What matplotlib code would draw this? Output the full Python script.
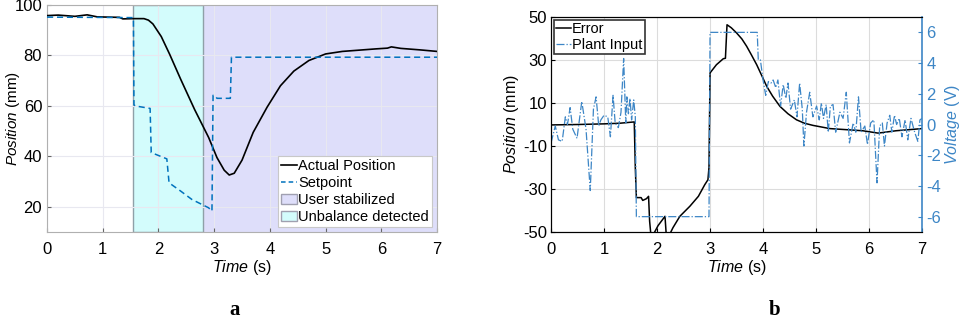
import numpy as np
import matplotlib.pyplot as plt
from matplotlib.patches import Patch
from matplotlib.lines import Line2D

plt.rcParams["font.family"] = ["Liberation Sans", "DejaVu Sans"]
plt.rcParams["mathtext.fontset"] = "custom"
plt.rcParams["mathtext.it"] = "Liberation Sans:italic"
plt.rcParams["mathtext.rm"] = "Liberation Sans"
plt.rcParams["axes.unicode_minus"] = False

# ---- panel a: position tracking ----
pos_t = [0.0, 0.2, 0.5, 0.72, 0.9, 1.1, 1.3, 1.36, 1.56, 1.74, 1.82, 1.9, 2.05,
         2.2, 2.4, 2.65, 2.9, 3.05, 3.18, 3.27, 3.36, 3.5, 3.7, 3.95, 4.19, 4.43,
         4.7, 5.0, 5.3, 5.6, 5.9, 6.11, 6.18, 6.35, 6.7, 7.0]
pos_v = [95.8, 96.0, 95.5, 96.1, 95.3, 95.2, 95.1, 94.5, 94.6, 94.6, 94.0, 92.5, 87.5,
         80.5, 70.5, 58.5, 47.5, 39.5, 34.5, 32.6, 33.3, 38.5, 49.5, 59.5, 68.0, 73.8,
         78.0, 80.6, 81.6, 82.1, 82.6, 82.9, 83.4, 82.8, 82.2, 81.6]

set_t = [0.0, 1.55, 1.56, 1.58, 1.85, 1.87, 2.15, 2.19, 2.4, 2.6, 2.9, 2.96,
         2.98, 3.02, 3.05, 3.29, 3.31, 7.0]
set_v = [95.2, 95.0, 60.5, 60.0, 59.0, 41.5, 39.0, 29.5, 26.2, 22.9, 19.6, 18.3,
         64.2, 64.0, 63.0, 63.0, 79.3, 79.3]

unbalance = (1.54, 2.80)
stabilized = (2.80, 7.0)

# ---- panel b: error and plant input ----
err_t = [0.0, 0.5, 1.0, 1.3, 1.57, 1.59, 1.61, 1.70, 1.73, 1.80, 1.84, 1.86,
         1.89, 2.02, 2.15, 2.17, 2.20, 2.30, 2.43, 2.62, 2.78, 2.90, 2.96, 2.98,
         3.00, 3.12, 3.25, 3.29, 3.32, 3.40, 3.50, 3.60, 3.69, 3.78, 3.88, 3.98,
         4.07, 4.18, 4.32, 4.47, 4.63, 4.78, 4.94, 5.26, 5.57, 5.88, 6.17, 6.51, 7.0]
err_v = [-0.2, 0.0, 0.3, 0.6, 1.2, -20.0, -34.0, -34.0, -35.3, -34.5, -33.4, -45.0,
         -53.0, -47.0, -42.7, -50.0, -53.0, -48.0, -42.7, -38.0, -33.4, -28.0, -25.7, -20.0,
         24.0, 27.8, 30.6, 30.8, 46.4, 45.0, 42.6, 39.8, 36.4, 32.4, 27.8, 22.5,
         17.7, 13.2, 8.4, 5.0, 2.2, 0.6, -0.4, -1.9, -2.4, -2.9, -4.0, -2.9, -1.9]

inp_t = [0.0, 0.08, 0.14, 0.21, 0.27, 0.31, 0.36, 0.41, 0.49, 0.58, 0.66, 0.74,
         0.80, 0.85, 0.90, 0.94, 1.00, 1.07, 1.12, 1.17, 1.21, 1.27, 1.32, 1.37,
         1.41, 1.43, 1.46, 1.49, 1.52, 1.56, 1.59, 1.61, 2.98, 3.00, 3.89, 3.91,
         3.95, 4.00, 4.05, 4.10, 4.15, 4.19, 4.24, 4.28, 4.33, 4.38, 4.43, 4.47,
         4.52, 4.59, 4.64, 4.69, 4.74, 4.77, 4.82, 4.88, 4.94, 5.01, 5.06, 5.10,
         5.14, 5.19, 5.23, 5.27, 5.32, 5.37, 5.45, 5.51, 5.57, 5.63, 5.70, 5.75,
         5.80, 5.85, 5.92, 5.97, 6.03, 6.09, 6.15, 6.20, 6.25, 6.29, 6.34, 6.39,
         6.43, 6.48, 6.52, 6.57, 6.62, 6.68, 6.73, 6.79, 6.86, 6.92, 6.96, 7.00]
inp_v = [-1.2, -0.1, -1.0, -1.1, 0.5, 0.0, 1.1, -0.3, -0.9, 1.5, -0.3, -4.3,
         1.0, 1.8, -0.1, 0.3, 0.6, 0.5, -0.8, 1.9, 0.1, -0.2, 0.8, 4.3,
         0.1, 1.8, 0.7, 1.7, 0.3, 1.6, 0.5, -6.0, -6.0, 6.0, 6.0, 4.2,
         4.2, 2.9, 1.9, 2.8, 2.7, 2.9, 2.4, 2.9, 1.2, 2.6, 1.7, 2.7,
         1.0, 1.6, 0.5, 2.7, 1.0, -1.4, 0.8, 2.1, 0.5, 1.2, 0.3, 1.4,
         0.4, 1.3, -0.5, 1.2, 1.3, -0.5, 0.8, 0.4, 2.1, -1.2, 0.1, -0.5,
         1.8, -0.5, -0.1, -1.3, 0.1, 0.3, -3.8, -0.1, 0.1, -1.4, 0.1, 0.6,
         -0.5, 0.6, 0.0, 0.4, -0.8, 0.3, -1.0, 0.4, -0.5, -1.1, 0.3, 0.4]

blue = "#0072BD"
rblue = "#3d86c6"
cyan = "#d3fcfc"
lavender = "#dedefa"

fig = plt.figure(figsize=(9.62, 3.19), dpi=100)
ax_a = fig.add_axes([0.0489, 0.2727, 0.4054, 0.7116])
ax_b = fig.add_axes([0.5728, 0.2727, 0.3857, 0.674])

# panel a
ax_a.axvspan(*stabilized, color=lavender, zorder=0.5)
ax_a.axvspan(*unbalance, facecolor=cyan, edgecolor="#8fa0a8", lw=1.0, zorder=0.6)
ax_a.plot(pos_t, pos_v, color="black", lw=1.2, zorder=3)
ax_a.plot(set_t, set_v, color=blue, lw=1.1, ls=(0, (4, 2.5)), zorder=3)
ax_a.set_xlim(0, 7)
ax_a.set_ylim(10, 100)
ax_a.set_yticks([20, 40, 60, 80, 100])
ax_a.set_xticks(range(8))
ax_a.grid(True, color="#e8e8f0", lw=0.8)
ax_a.tick_params(direction="in", labelsize=12, length=3, color="#666666")
ax_a.tick_params(axis="x", pad=7)
for s in ax_a.spines.values():
    s.set_color("#b0b0b0")
ax_a.set_xlabel(r"$\it{Time}$ (s)", fontsize=11.5, labelpad=1)
ax_a.set_ylabel(r"$\it{Position}$ (mm)", fontsize=11)
ax_a.yaxis.set_label_coords(-0.064, 0.5)

handles_a = [
    Line2D([], [], color="black", lw=1.2),
    Line2D([], [], color=blue, lw=1.1, ls=(0, (3, 2))),
    Patch(facecolor=lavender, edgecolor="#a0a0b0"),
    Patch(facecolor=cyan, edgecolor="#a0a0b0"),
]
leg_a = ax_a.legend(handles_a, ["Actual Position", "Setpoint", "User stabilized",
                                "Unbalance detected"],
                    loc="lower right", fontsize=10.5, frameon=True, fancybox=False,
                    borderpad=0.2, labelspacing=0.2, handlelength=1.1,
                    handletextpad=0.1, borderaxespad=0.35, framealpha=1)
leg_a.get_frame().set_edgecolor("#c8c8c8")
leg_a.get_frame().set_linewidth(0.8)

# panel b
ax_b.plot(err_t, err_v, color="black", lw=1.1, zorder=3)
ax_b.set_xlim(0, 7)
ax_b.set_ylim(-50, 50)
ax_b.set_yticks([-50, -30, -10, 10, 30, 50])
ax_b.set_xticks(range(8))
ax_b.grid(True, color="#dcdcdc", lw=0.8)
ax_b.tick_params(direction="in", labelsize=12, length=3, pad=3)
ax_b.tick_params(axis="x", pad=7)
ax_b.set_xlabel(r"$\it{Time}$ (s)", fontsize=11.5, labelpad=1)
ax_b.set_ylabel(r"$\it{Position}$ (mm)", fontsize=11.5, labelpad=1)

ax_r = ax_b.twinx()
ax_r.plot(inp_t, inp_v, color=rblue, lw=0.9, ls="-.", zorder=2)
ax_r.set_ylim(-7, 7)
ax_r.set_yticks([-6, -4, -2, 0, 2, 4, 6])
ax_r.tick_params(direction="in", labelsize=12, length=3, colors=rblue, pad=3)
ax_r.spines["right"].set_color(rblue)
ax_r.spines["right"].set_linewidth(1.2)
ax_r.set_ylabel(r"$\it{Voltage}$ (V)", fontsize=11.5, color=rblue, labelpad=1)
ax_b.spines["right"].set_visible(False)

handles_b = [Line2D([], [], color="black", lw=1.1),
             Line2D([], [], color=rblue, lw=0.9, ls="-.")]
leg_b = ax_r.legend(handles_b, ["Error", "Plant Input"], loc="upper left",
                    fontsize=10.5, frameon=True, fancybox=False, borderpad=0.15,
                    labelspacing=0.15, handlelength=1.0, handletextpad=0.1,
                    borderaxespad=0.2, framealpha=1)
leg_b.get_frame().set_edgecolor("#333333")
leg_b.get_frame().set_linewidth(1.2)

fig.text(0.2443, 0.012, "a", fontsize=15, fontweight="bold",
         family="Liberation Serif", ha="center", va="baseline")
fig.text(0.805, 0.012, "b", fontsize=15, fontweight="bold",
         family="Liberation Serif", ha="center", va="baseline")

fig.savefig("out.png", dpi=100)
